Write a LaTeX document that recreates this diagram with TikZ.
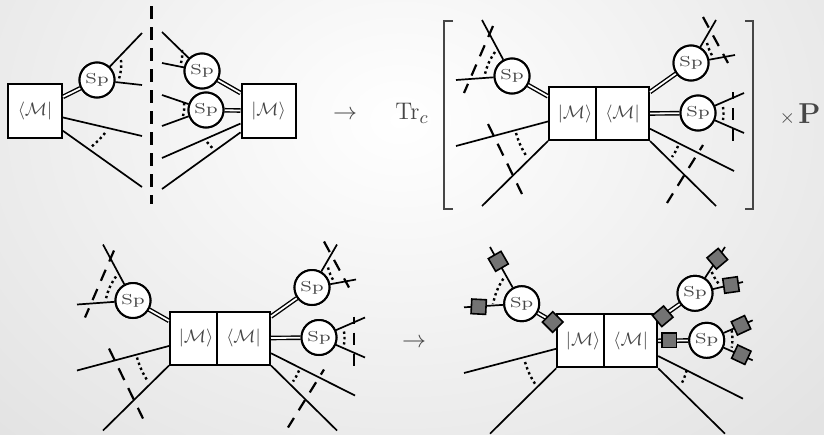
\documentclass[tikz,border=0pt]{standalone}
\usepackage{amsmath}
\usepackage{graphicx}
\usepackage{tikz}
\definecolor{inkgray}{RGB}{70,70,70}
\definecolor{markgray}{RGB}{115,115,115}
\newcommand{\spname}{\scalebox{1.22}[0.9]{\footnotesize Sp}}
\begin{document}
\begin{tikzpicture}[
  x=0.5pt, y=-0.5pt,
  ampbox/.style={draw, fill=white, line width=1pt, inner sep=0pt,
                 minimum height=26.5pt, text=inkgray, font=\small},
  ampket/.style={ampbox, minimum width=23.5pt},
  ampbra/.style={ampbox, minimum width=26.5pt},
  ampbig/.style={ampbox, minimum width=27pt, minimum height=27pt},
  spnode/.style={draw, circle, fill=white, line width=1pt, inner sep=0pt,
                 minimum size=17.5pt, text=inkgray},
  leg/.style={line width=0.85pt},
  dleg/.style={line width=0.7pt, double, double distance=0.9pt},
  softcut/.style={line width=1.2pt, dash pattern=on 1.2pt off 1.5pt},
  cutline/.style={line width=1.1pt, dash pattern=on 6pt off 4.5pt},
  bracket/.style={line width=0.9pt, color=inkgray},
  sq/.style={draw, fill=markgray, line width=0.8pt, inner sep=0pt, minimum size=7.3pt},
  lab/.style={text=inkgray, inner sep=0pt, font=\fontsize{12.5}{15}\selectfont}
]
\useasboundingbox (0,0) rectangle (824,434);
\shade[inner color=white, outer color=black!11] (-166,-324) rectangle (966,564);

\node[ampbig] (abra) at (35,110.5) {$\langle\mathcal{M}|$};
\node[ampbig] (aket) at (268.5,110.5) {$|\mathcal{M}\rangle$};
\node[spnode] (asp)  at (97,80)  {\spname};
\node[spnode] (asq)  at (202,71) {\spname};
\node[spnode] (asr)  at (206,110) {\spname};
\coordinate (l1) at (142,33);  \coordinate (l2) at (142,85);
\coordinate (l3) at (142,136); \coordinate (l4) at (142,187);
\coordinate (r1) at (162,32);  \coordinate (r2) at (162,63);
\coordinate (r3) at (162,95);  \coordinate (r4) at (162,126);
\coordinate (r5) at (162,158); \coordinate (r6) at (162,189);
\coordinate (cuttop) at (151.5,6); \coordinate (cutbot) at (151.5,204);
\draw[dleg] (abra.26) -- (asp);
\draw[dleg] (aket.148) -- (asq);
\draw[dleg] (aket.west) -- (asr);
\draw[leg] (asp) -- (l1);
\draw[leg] (asp) -- (l2);
\draw[leg] (abra.-14) -- (l3);
\draw[leg] (abra.-36) -- (l4);
\draw[leg] (asq) -- (r1);
\draw[leg] (asq) -- (r2);
\draw[leg] (asr) -- (r3);
\draw[leg] (asr) -- (r4);
\draw[leg] (aket.205) -- (r5);
\draw[leg] (aket.218) -- (r6);
\node[spnode] at (asp) {\spname};
\node[spnode] at (asq) {\spname};
\node[spnode] at (asr) {\spname};
\draw[softcut] (121,60) to[bend left=10] (119,79);
\draw[softcut] (105,133) to[bend left=6] (91,147);
\draw[softcut] (182,50) to[bend left=10] (181,63);
\draw[softcut] (184,103) to[bend left=10] (183,116);
\draw[softcut] (207,142) to (214,150);
\draw[cutline, dash pattern=on 6.5pt off 4pt] (cuttop) -- (cutbot);

\node[lab] (arrowa) at (345,115) {$\rightarrow$};
\node[lab] (trace) at (412,113) {$\mathrm{Tr}_c$};
\draw[bracket] (453,21) -- (444,21) -- (444,209) -- (453,209);
\draw[bracket] (745,21) -- (753,21) -- (753,209) -- (745,209);
\node[lab, font=\normalsize, anchor=east] (factor) at (821,114) {$\times$\,{\fontsize{15}{17}\selectfont$\mathbf{P}$}};

\foreach \pre/\dx/\dy in {b/0/0,c/-379/224.5}{
\begin{scope}[shift={(\dx,\dy)}, name prefix=\pre-]
\node[ampket] (ket) at (572.5,113.5) {\hspace*{2.5pt}$|\mathcal{M}\rangle$};
\node[ampbra] (bra) at (622.5,113.5) {$\langle\mathcal{M}|$};
\node[spnode] (spl) at (512,76)  {\spname};
\node[spnode] (spt) at (691,63)  {\spname};
\node[spnode] (spm) at (698,113) {\spname};
\coordinate (e1) at (482,20);  \coordinate (e2) at (456,80);
\coordinate (e3) at (456,146); \coordinate (e4) at (482,206);
\coordinate (e5) at (716,20);  \coordinate (e6) at (735,55);
\coordinate (e7) at (744,93);  \coordinate (e8) at (744,133);
\coordinate (e9) at (734,171); \coordinate (e10) at (716,206);
\coordinate (d1) at (493,26);  \coordinate (d2) at (464,93);
\coordinate (d3) at (488,124); \coordinate (d4) at (522,194);
\coordinate (d5) at (703,17);  \coordinate (d6) at (728,63);
\coordinate (d7) at (733,92);  \coordinate (d8) at (733,143);
\coordinate (d9) at (703,145); \coordinate (d10) at (667,203);
\draw[dleg] (ket.145) -- (spl);
\draw[dleg] (bra.38) -- (spt);
\draw[dleg] (bra.east) -- (spm);
\draw[leg] (spl) -- (e1);
\draw[leg] (spl) -- (e2);
\draw[leg] (ket.198) -- (e3);
\draw[leg] (ket.south west) -- (e4);
\draw[leg] (spt) -- (e5);
\draw[leg] (spt) -- (e6);
\draw[leg] (spm) -- (e7);
\draw[leg] (spm) -- (e8);
\draw[leg] (bra.-29) -- (e9);
\draw[leg] (bra.south east) -- (e10);
\node[spnode] at (spl) {\spname};
\node[spnode] at (spt) {\spname};
\node[spnode] at (spm) {\spname};
\draw[softcut] (495,52) to[bend right=10] (485,74);
\draw[softcut] (516,133) to[bend right=8] (527,157);
\draw[softcut] (707,43) to[bend right=8] (713,57);
\draw[softcut] (723,107) to[bend left=8] (723,120);
\draw[softcut] (678,146) to[bend left=6] (672,157);
\draw[cutline] (d1) -- (d2);
\draw[cutline, dash pattern=on 6.5pt off 4.5pt] (d3) -- (d4);
\draw[cutline] (d5) -- (d6);
\draw[cutline, dash phase=2.5pt] (d7) -- (d8);
\draw[cutline, dash phase=3pt] (d9) -- (d10);
\end{scope}
}

\node[lab] (arrowb) at (414,343) {$\rightarrow$};

\node[ampket] (ket) at (580.7,340.8) {\hspace*{2.5pt}$|\mathcal{M}\rangle$};
\node[ampbra] (bra) at (630.7,340.8) {$\langle\mathcal{M}|$};
\node[spnode] (spl) at (521.7,303.7) {\spname};
\node[spnode] (spt) at (695,293.3) {\spname};
\node[spnode] (spm) at (706.7,340.3) {\spname};
\coordinate (e1) at (490,247);   \coordinate (e2) at (464,307.3);
\coordinate (e3) at (464,373);   \coordinate (e4) at (490,433.7);
\coordinate (e5) at (725,247);   \coordinate (e6) at (743,282);
\coordinate (e7) at (752.7,320.3); \coordinate (e8) at (752.7,360.3);
\coordinate (e9) at (743,398.7); \coordinate (e10) at (725,433.7);
\draw[dleg] (ket.145) -- (spl);
\draw[dleg] (bra.38) -- (spt);
\draw[dleg] (bra.east) -- (spm);
\draw[leg] (spl) -- (e1);
\draw[leg] (spl) -- (e2);
\draw[leg] (ket.198) -- (e3);
\draw[leg] (ket.south west) -- (e4);
\draw[leg] (spt) -- (e5);
\draw[leg] (spt) -- (e6);
\draw[leg] (spm) -- (e7);
\draw[leg] (spm) -- (e8);
\draw[leg] (bra.-29) -- (e9);
\draw[leg] (bra.south east) -- (e10);
\node[spnode] at (spl) {\spname};
\node[spnode] at (spt) {\spname};
\node[spnode] at (spm) {\spname};
\draw[softcut] (503.3,278.7) to[bend right=10] (493,304);
\draw[softcut] (525,362) to[bend right=8] (536,385.3);
\draw[softcut] (711.7,272) to[bend right=8] (720,285.3);
\draw[softcut] (731.7,330.3) to[bend left=8] (731.7,347.7);
\draw[softcut] (686.7,370.3) to[bend left=6] (680.7,385.3);
\node[sq, rotate=30] (s1) at (498.3,261.3) {};
\node[sq, rotate=-3] (s2) at (478.7,306.7) {};
\node[sq, rotate=45] (s3) at (552.7,322) {};
\node[sq, rotate=40] (s4) at (662.7,316.3) {};
\node[sq] (s5) at (669,340.3) {};
\node[sq, rotate=40] (s6) at (717.3,258.7) {};
\node[sq, rotate=8] (s7) at (731,285) {};
\node[sq, rotate=25] (s8) at (741,325.3) {};
\node[sq, rotate=-25] (s9) at (741.3,354.7) {};
\end{tikzpicture}
\end{document}
